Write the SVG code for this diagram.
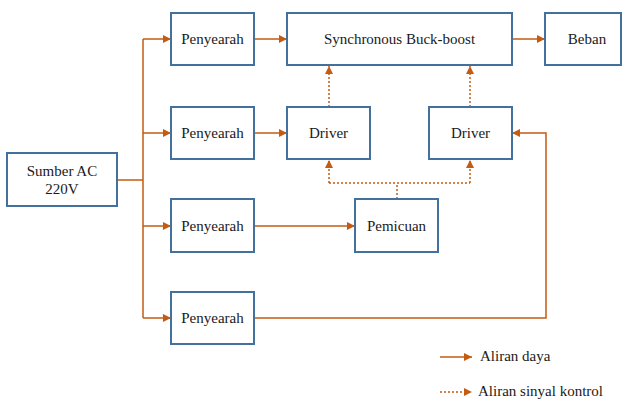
<svg xmlns="http://www.w3.org/2000/svg" width="624" height="400" viewBox="0 0 624 400">
  <style>
    .box { fill: #ffffff; stroke: #41719C; stroke-width: 2; }
    .pw { fill: none; stroke: #C55A11; stroke-width: 1.5; }
    .sig { fill: none; stroke: #C55A11; stroke-width: 1.5; stroke-dasharray: 2 2; }
  </style>
  <defs>
    <marker id="arr" viewBox="0 0 10 10" refX="10" refY="5" markerWidth="8" markerHeight="8" markerUnits="userSpaceOnUse" orient="auto">
      <path d="M0,0 L10,5 L0,10 Z" fill="#C55A11"/>
    </marker>
  </defs>

  <!-- connectors -->
  <g id="connectors">
    <!-- source trunk -->
    <path class="pw" d="M117,180 H143"/>
    <path class="pw" d="M143,39 V318"/>
    <path class="pw" d="M143,39 H171" marker-end="url(#arr)"/>
    <path class="pw" d="M143,133 H171" marker-end="url(#arr)"/>
    <path class="pw" d="M143,226 H171" marker-end="url(#arr)"/>
    <path class="pw" d="M143,318 H171" marker-end="url(#arr)"/>
    <!-- rectifier outputs -->
    <path class="pw" d="M254,39 H287" marker-end="url(#arr)"/>
    <path class="pw" d="M254,133 H287" marker-end="url(#arr)"/>
    <path class="pw" d="M254,226 H355" marker-end="url(#arr)"/>
    <path class="pw" d="M254,318 H546 V133 H512" marker-end="url(#arr)"/>
    <!-- converter to load -->
    <path class="pw" d="M512,39 H545" marker-end="url(#arr)"/>
    <!-- control signals -->
    <path class="sig" d="M329,107 V66" marker-end="url(#arr)"/>
    <path class="sig" d="M470,107 V66" marker-end="url(#arr)"/>
    <path class="sig" d="M397,199 V183"/>
    <path class="sig" d="M329,183 H470"/>
    <path class="sig" d="M329,183 V160" marker-end="url(#arr)"/>
    <path class="sig" d="M470,183 V160" marker-end="url(#arr)"/>
    <!-- legend -->
    <path class="pw" d="M440,357 H472" marker-end="url(#arr)"/>
    <path class="sig" d="M440,392 H472" marker-end="url(#arr)"/>
  </g>

  <g font-family="Liberation Serif, Times New Roman, serif" font-size="15" fill="#1a1a1a" text-anchor="middle">
    <g id="sumber">
      <rect class="box" x="7" y="153" width="110" height="53"/>
      <text x="62" y="176">Sumber AC</text>
      <text x="62" y="194">220V</text>
    </g>
    <g id="penyearah1">
      <rect class="box" x="171" y="13" width="83" height="52"/>
      <text x="212.5" y="44">Penyearah</text>
    </g>
    <g id="penyearah2">
      <rect class="box" x="171" y="107" width="83" height="52"/>
      <text x="212.5" y="138">Penyearah</text>
    </g>
    <g id="penyearah3">
      <rect class="box" x="171" y="199" width="83" height="53"/>
      <text x="212.5" y="231">Penyearah</text>
    </g>
    <g id="penyearah4">
      <rect class="box" x="171" y="292" width="83" height="52"/>
      <text x="212.5" y="323">Penyearah</text>
    </g>
    <g id="buckboost">
      <rect class="box" x="287" y="13" width="225" height="52"/>
      <text x="399.5" y="44">Synchronous Buck-boost</text>
    </g>
    <g id="beban">
      <rect class="box" x="545" y="13" width="76" height="52"/>
      <text x="587" y="44">Beban</text>
    </g>
    <g id="driver1">
      <rect class="box" x="287" y="107" width="83" height="52"/>
      <text x="328.5" y="138">Driver</text>
    </g>
    <g id="driver2">
      <rect class="box" x="429" y="107" width="83" height="52"/>
      <text x="470.5" y="138">Driver</text>
    </g>
    <g id="pemicuan">
      <rect class="box" x="355" y="199" width="83" height="53"/>
      <text x="396.5" y="231">Pemicuan</text>
    </g>
    <g id="legend" text-anchor="start">
      <text x="480" y="361">Aliran daya</text>
      <text x="478" y="396">Aliran sinyal kontrol</text>
    </g>
  </g>
</svg>
